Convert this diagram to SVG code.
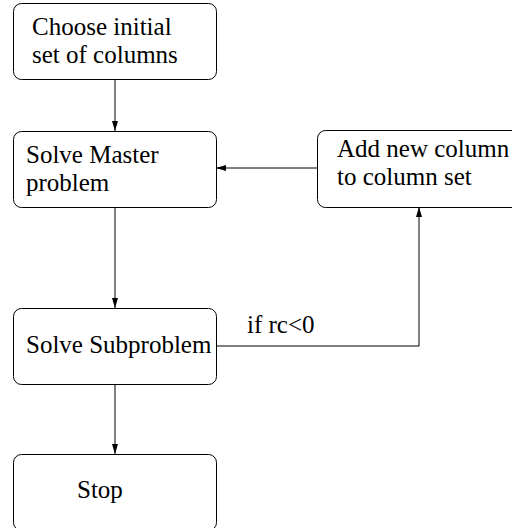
<svg xmlns="http://www.w3.org/2000/svg" width="512" height="528" viewBox="0 0 512 528">
<style>
.box{fill:#fff;stroke:#000;stroke-width:1}
.t{font-family:"Liberation Serif","Times New Roman",serif;font-size:25px;fill:#000}
.c{fill:none;stroke:#000;stroke-width:1}
</style>
<defs>
<marker id="ah" viewBox="0 0 10 6" refX="10" refY="3" markerWidth="10" markerHeight="6" markerUnits="userSpaceOnUse" orient="auto">
<path d="M0,0 L10,3 L0,6 Z" fill="#000"/>
</marker>
</defs>
<rect width="512" height="528" fill="#fff"/>
<g id="connectors">
<path class="c" d="M115,80 V131" marker-end="url(#ah)"/>
<path class="c" d="M317,168 H216" marker-end="url(#ah)"/>
<path class="c" d="M115,207 V308" marker-end="url(#ah)"/>
<path class="c" d="M216,346 H419 V207" marker-end="url(#ah)"/>
<path class="c" d="M115,384 V454" marker-end="url(#ah)"/>
<text class="t" x="247" y="333">if rc&lt;0</text>
</g>
<g id="n1">
<rect class="box" x="13.5" y="3.5" width="203" height="76" rx="8"/>
<text class="t" x="32" y="35">Choose initial</text>
<text class="t" x="32" y="63">set of columns</text>
</g>
<g id="n2">
<rect class="box" x="13.5" y="131.5" width="203" height="76" rx="8"/>
<text class="t" x="26" y="163">Solve Master</text>
<text class="t" x="26" y="191">problem</text>
</g>
<g id="n3">
<rect class="box" x="317.5" y="130.5" width="220" height="77" rx="8"/>
<text class="t" x="337" y="157">Add new column</text>
<text class="t" x="337" y="185">to column set</text>
</g>
<g id="n4">
<rect class="box" x="13.5" y="308.5" width="203" height="76" rx="8"/>
<text class="t" x="26" y="353">Solve Subproblem</text>
</g>
<g id="n5">
<rect class="box" x="13.5" y="454.5" width="203" height="76" rx="8"/>
<text class="t" x="77" y="498">Stop</text>
</g>
</svg>
